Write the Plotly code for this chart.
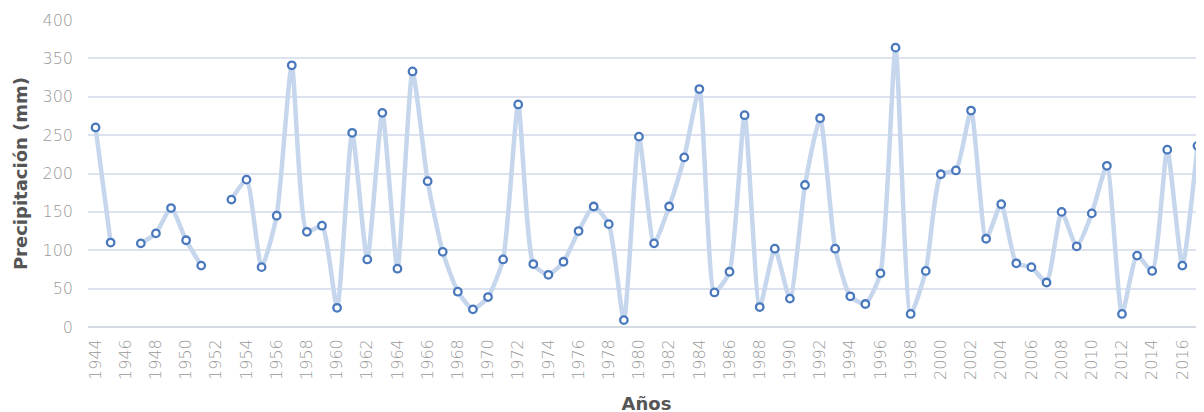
import plotly.graph_objects as go

years = list(range(1944, 2018))
precip = [260, 110, None, 109, 122, 155, 113, 80, None, 166,
          192, 78, 145, 341, 124, 132, 25, 253, 88, 279,
          76, 333, 190, 98, 46, 23, 39, 88, 290, 82,
          68, 85, 125, 157, 134, 9, 248, 109, 157, 221,
          310, 45, 72, 276, 26, 102, 37, 185, 272, 102,
          40, 30, 70, 364, 17, 73, 199, 204, 282, 115,
          160, 83, 78, 58, 150, 105, 148, 210, 17, 93,
          73, 231, 80, 236]
tick_years = list(range(1944, 2018, 2))
y_ticks = [0, 50, 100, 150, 200, 250, 300, 350, 400]

fig = go.Figure()
fig.add_trace(go.Scatter(
    x=years, y=precip, mode="lines+markers",
    line=dict(color="#c6d6ec", width=4.5, shape="spline", smoothing=0.55),
    marker=dict(size=7.5, color="white", line=dict(color="#4a78bd", width=2.3)),
    connectgaps=False, hoverinfo="x+y",
))

tick_font = dict(family="DejaVu Sans", size=16, color="#999999", weight=200)
title_font = dict(family="DejaVu Sans", size=18, color="#555555", weight=700)
fig.update_layout(
    width=1204, height=412,
    margin=dict(l=80, r=7, t=12, b=93),
    paper_bgcolor="white", plot_bgcolor="white",
    showlegend=False,
)
fig.update_xaxes(
    range=[1943.5, 2017.5], tickvals=tick_years, ticktext=[str(y) for y in tick_years],
    tickangle=-90, tickfont=tick_font, showgrid=False, zeroline=False,
    showline=False, ticks="", ticklabelstandoff=8, automargin=False,
    title=dict(text="Años", font=title_font, standoff=18),
)
fig.update_yaxes(
    range=[0, 400], tickvals=y_ticks, tickfont=tick_font,
    showgrid=True, gridcolor="#dde3ee", gridwidth=1.5, zeroline=True,
    zerolinecolor="#d4d9e2", zerolinewidth=1.5, ticks="", ticklabelstandoff=14,
    automargin=False,
    title=dict(text="Precipitación (mm)", font=title_font, standoff=10),
)
fig.write_html("out.html")
